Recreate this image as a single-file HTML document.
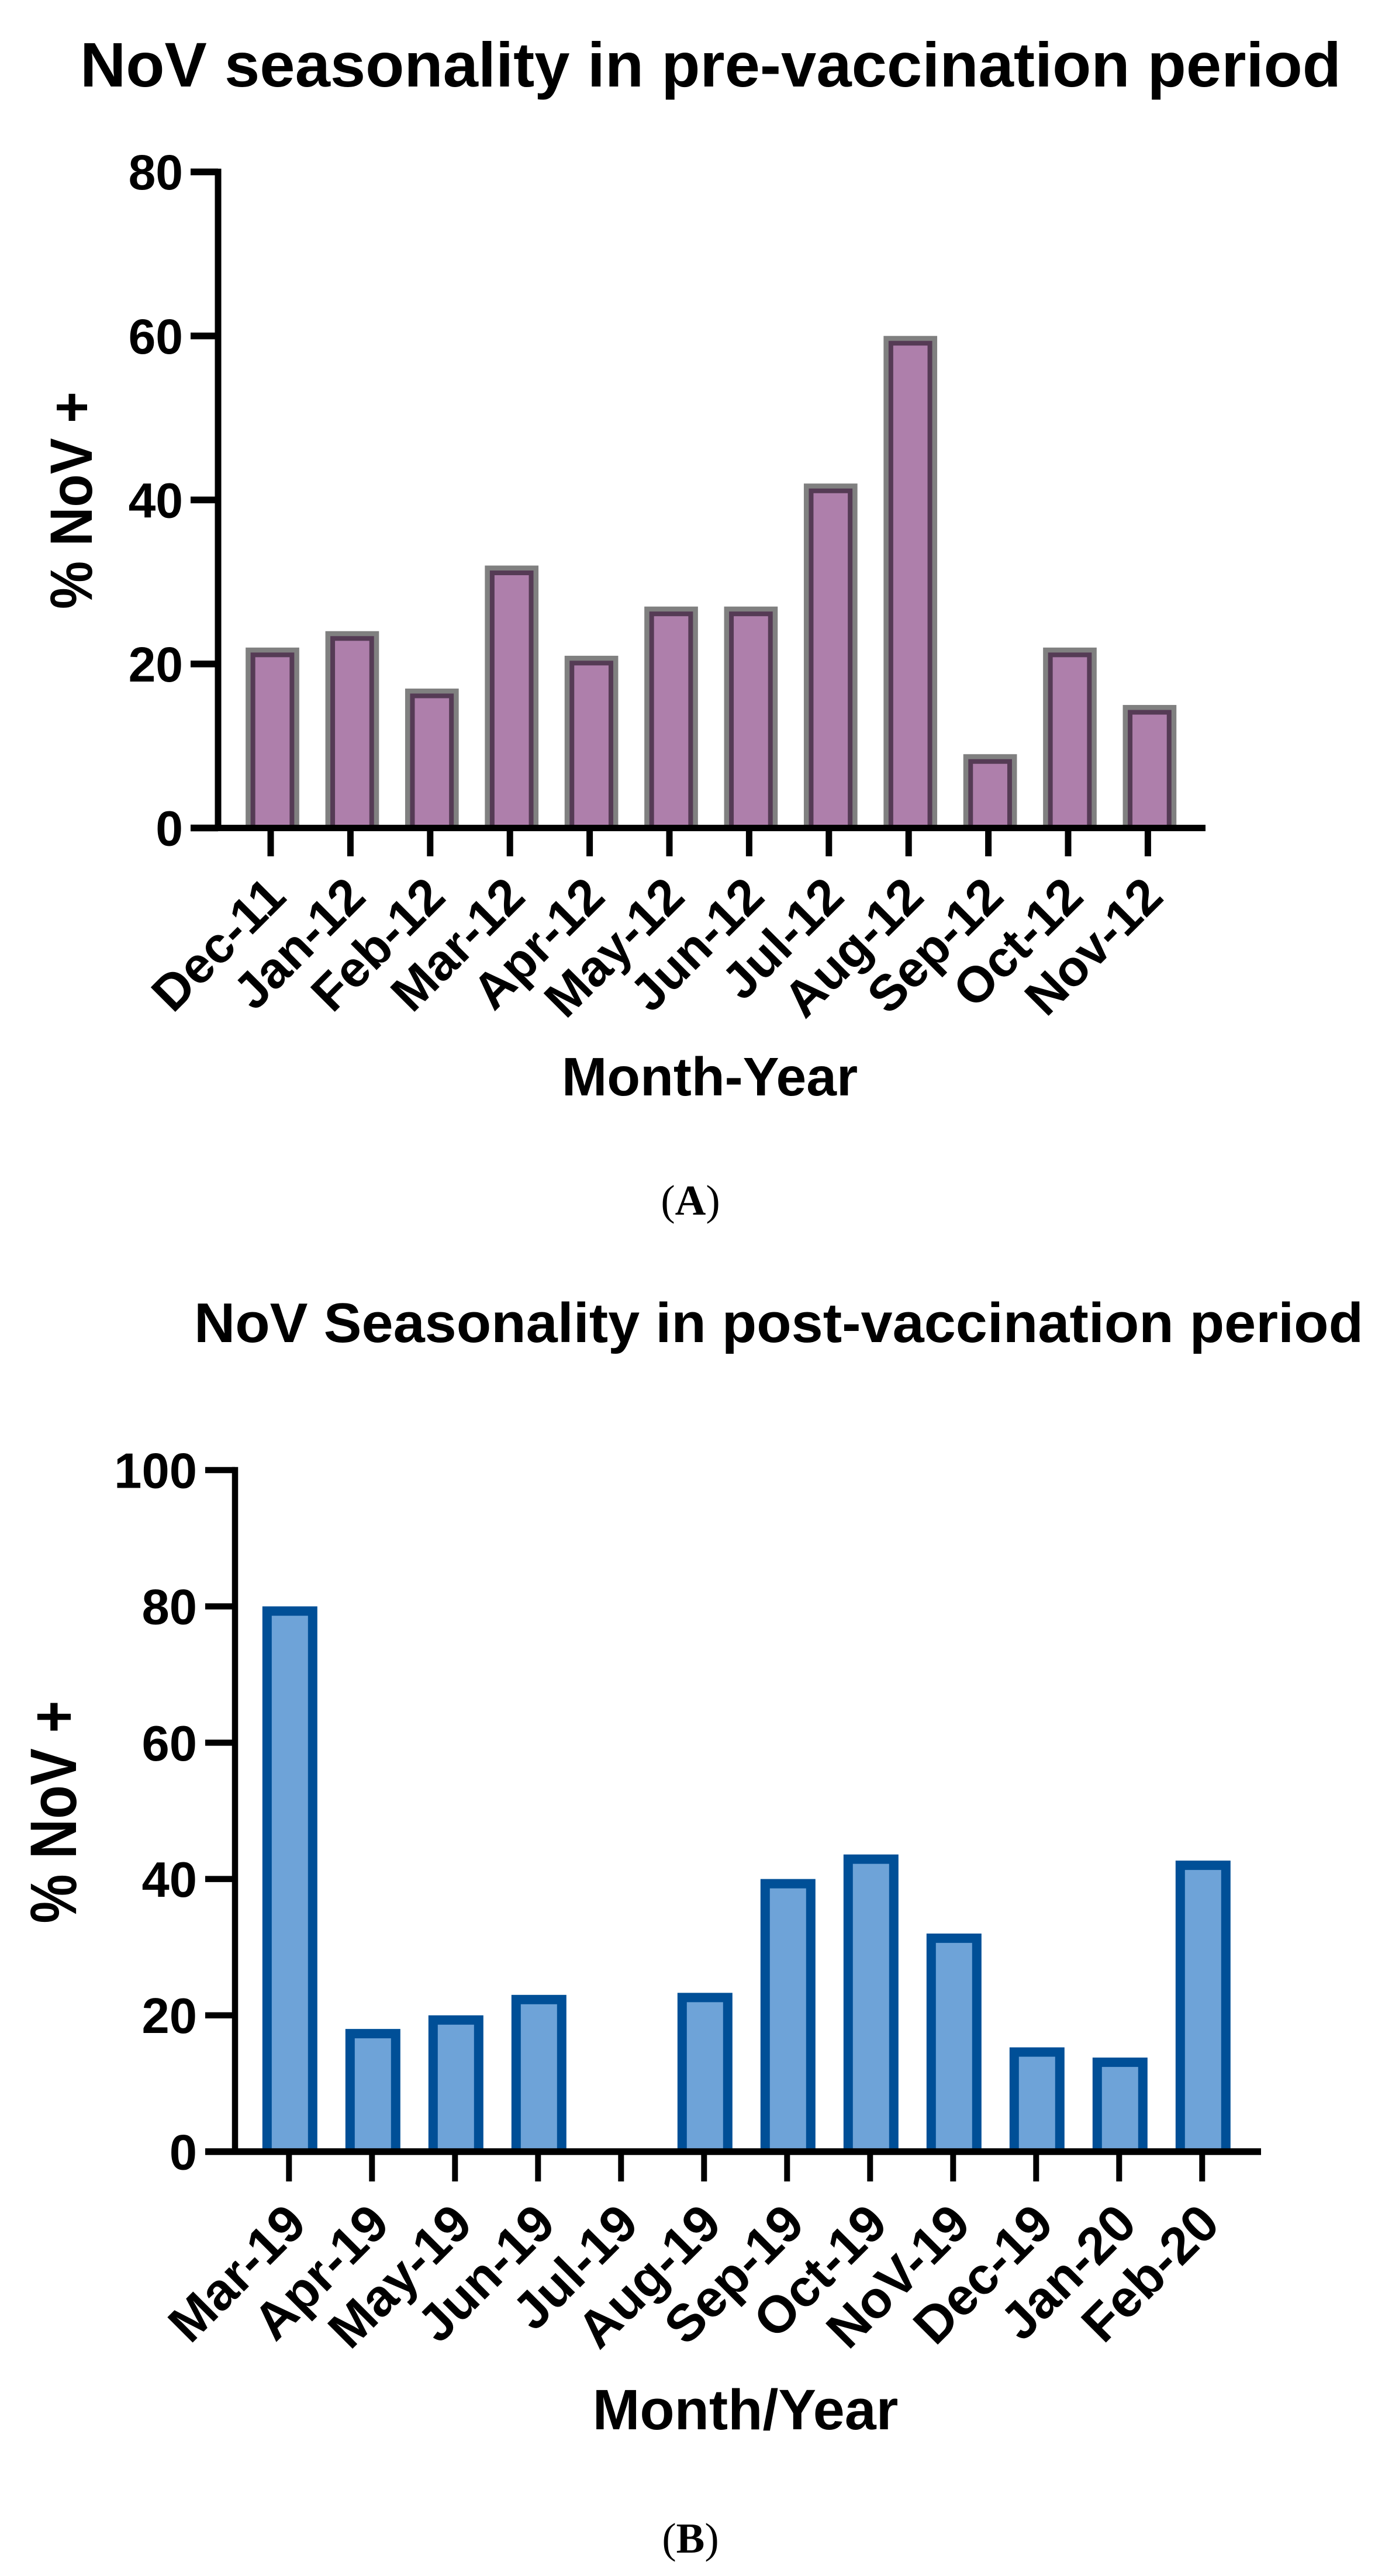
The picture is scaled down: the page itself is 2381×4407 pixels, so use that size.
<!DOCTYPE html>
<html lang="en">
<head>
<meta charset="utf-8">
<title>NoV seasonality</title>
<style>
html,body{margin:0;padding:0;background:#fff;}
svg{display:block;}
text{font-family:"Liberation Sans",Arial,sans-serif;font-weight:bold;fill:#000;}
.cap{font-family:"Liberation Serif","Times New Roman",serif;font-weight:normal;}
</style>
</head>
<body>
<svg id="figure" xmlns="http://www.w3.org/2000/svg" width="2381" height="4407" viewBox="0 0 2381 4407">
  <rect width="2381" height="4407" fill="#ffffff"/>
  <g id="panelA">
    <text x="137" y="148" font-size="108" textLength="2157" lengthAdjust="spacingAndGlyphs">NoV seasonality in pre-vaccination period</text>
    <text transform="translate(157 856) rotate(-90)" text-anchor="middle" font-size="102" textLength="372" lengthAdjust="spacingAndGlyphs">% NoV +</text>
    <text x="1214" y="1874" text-anchor="middle" font-size="93">Month-Year</text>
    <text class="cap" x="1181" y="2078" text-anchor="middle" font-size="73">(<tspan font-weight="bold">A</tspan>)</text>
  </g>
  <g id="panelB">
    <text x="332" y="2296" font-size="96" textLength="2000" lengthAdjust="spacingAndGlyphs">NoV Seasonality in post-vaccination period</text>
    <text transform="translate(130 3100) rotate(-90)" text-anchor="middle" font-size="112" textLength="381" lengthAdjust="spacingAndGlyphs">% NoV +</text>
    <text x="1275" y="4156" text-anchor="middle" font-size="97">Month/Year</text>
    <text class="cap" x="1181" y="4367" text-anchor="middle" font-size="73">(<tspan font-weight="bold">B</tspan>)</text>
  </g>
</svg>
<script>
const categoriesA = ["Dec-11","Jan-12","Feb-12","Mar-12","Apr-12","May-12","Jun-12","Jul-12","Aug-12","Sep-12","Oct-12","Nov-12"];
const valuesA = [22,24,17,32,21,27,27,42,60,9,22,15];
const yTicksA = [0,20,40,60,80];

const categoriesB = ["Mar-19","Apr-19","May-19","Jun-19","Jul-19","Aug-19","Sep-19","Oct-19","NoV-19","Dec-19","Jan-20","Feb-20"];
const valuesB = [80,18,20,23,0,23.3,40,43.6,32,15.3,13.8,42.7];
const yTicksB = [0,20,40,60,80,100];

const NS = "http://www.w3.org/2000/svg";

function make(tag, attrs, parent) {
  const el = document.createElementNS(NS, tag);
  for (const k in attrs) el.setAttribute(k, attrs[k]);
  parent.appendChild(el);
  return el;
}

function drawChart(parent, prefix, categories, values, yTicks, o) {
  const yScale = v => o.y0 - v * o.pxPerUnit;
  const xTick = i => o.tick0 + i * o.step;
  const xBar = i => xTick(i) + o.barOffset;

  const bars = make("g", {}, parent);
  
  

  values.forEach((v, i) => {
    if (v <= 0) return;
    const g = make("g", {}, bars);
    
    
    const top = yScale(v);
    const cx = xBar(i);
    o.bands.forEach(b => {
      const w = o.barWidth - 2 * b.inset;
      make("rect", {
        x: cx - w / 2,
        y: top + b.inset,
        width: w,
        height: Math.max(0, o.y0 - top - b.inset),
        fill: b.color
      }, g);
    });
  });

  const axes = make("g", {fill: "#000"}, parent);
  
  

  const topVal = yTicks[yTicks.length - 1];

  const yAxis = make("rect", {
    x: o.axisX - o.axisW / 2,
    y: yScale(topVal) - o.axisW / 2,
    width: o.axisW,
    height: o.y0 - yScale(topVal) + o.axisW / 2
  }, axes);
  
  

  const xAxis = make("rect", {
    x: o.tickLeft,
    y: o.y0 - o.xAxisH / 2,
    width: o.xAxisEnd - o.tickLeft,
    height: o.xAxisH
  }, axes);
  
  

  yTicks.forEach(t => {
    const y = yScale(t);
    const mark = make("rect", {
      x: o.tickLeft,
      y: y - o.yTickH / 2,
      width: o.axisX - o.tickLeft,
      height: o.yTickH
    }, axes);
    
    

    const label = make("text", {
      x: o.yLabelRight,
      y: y + o.yFont * 0.358,
      "text-anchor": "end",
      "font-size": o.yFont
    }, parent);
    
    
    label.textContent = t;
  });

  categories.forEach((c, i) => {
    const x = xTick(i);
    const mark = make("rect", {
      x: x - o.xTickW / 2,
      y: o.y0,
      width: o.xTickW,
      height: o.xTickBottom - o.y0
    }, axes);
    
    

    const lx = x + o.labelDx;
    const label = make("text", {
      transform: "translate(" + lx + " " + o.labelY + ") rotate(-45)",
      "text-anchor": "end",
      "font-size": o.xFont
    }, parent);
    
    
    label.textContent = c;
  });
}

drawChart(document.getElementById("panelA"), "chart-a", categoriesA, valuesA, yTicksA, {
  y0: 1416.5, pxPerUnit: 14.03,
  tick0: 463, step: 136.4, barOffset: 3, barWidth: 91.7,
  bands: [
    {inset: 0, color: "#808080"},
    {inset: 8.5, color: "#553b55"},
    {inset: 16.5, color: "#ae7fab"}
  ],
  axisX: 373, axisW: 11, xAxisH: 11, tickLeft: 326, xAxisEnd: 2062,
  yTickH: 11.5, xTickW: 11, xTickBottom: 1465,
  yLabelRight: 313, yFont: 84, xFont: 86.5, labelDx: 30, labelY: 1538
});

drawChart(document.getElementById("panelB"), "chart-b", categoriesB, valuesB, yTicksB, {
  y0: 3681, pxPerUnit: 11.66,
  tick0: 494.3, step: 142, barOffset: 1.5, barWidth: 94,
  bands: [
    {inset: 0, color: "#004f97"},
    {inset: 16, color: "#6ea3d8"}
  ],
  axisX: 402, axisW: 10.5, xAxisH: 11.5, tickLeft: 351, xAxisEnd: 2157,
  yTickH: 10.5, xTickW: 10, xTickBottom: 3732,
  yLabelRight: 337, yFont: 85, xFont: 89, labelDx: 34, labelY: 3809
});
</script>
</body>
</html>
